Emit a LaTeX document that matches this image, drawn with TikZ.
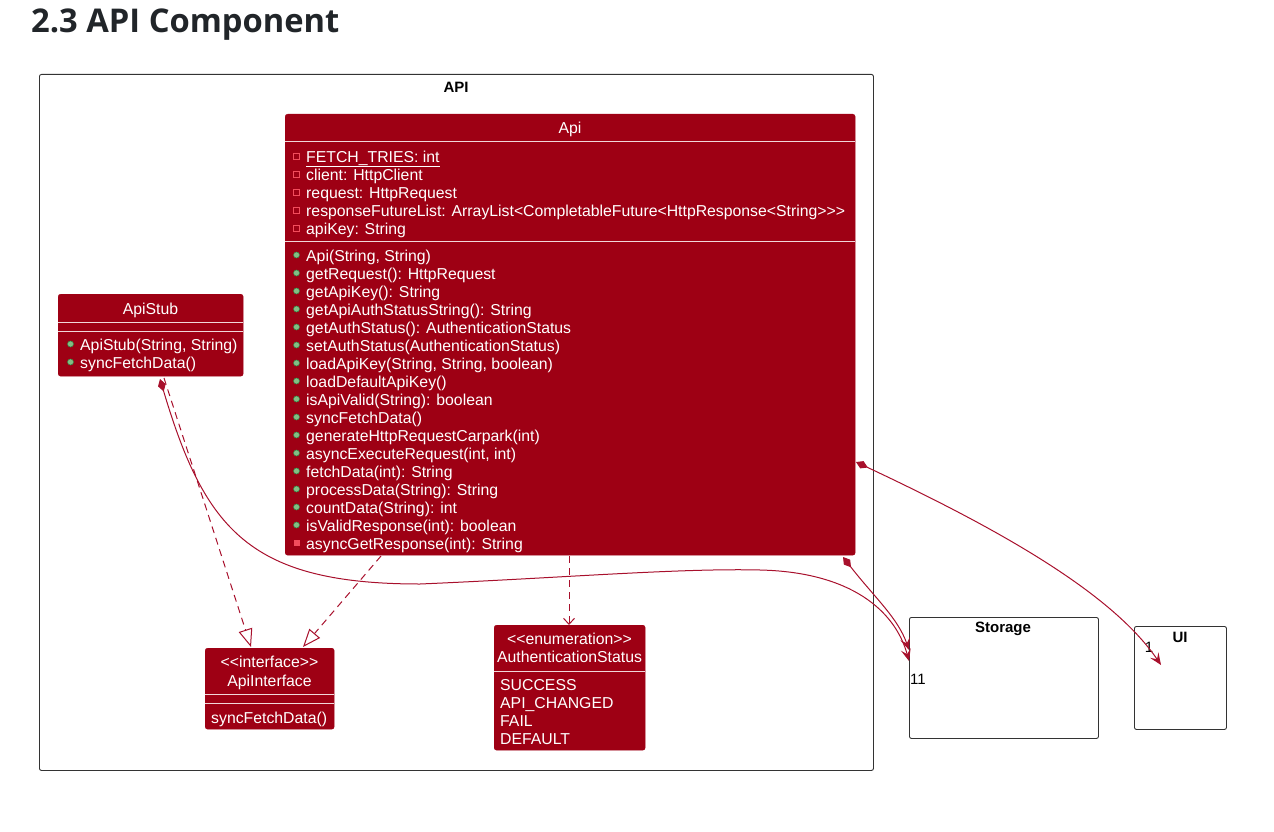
\documentclass[tikz,border=0pt]{standalone}
\usepackage{fontspec}
\usetikzlibrary{arrows.meta}
\newfontfamily\lib{Liberation Sans}
\newfontfamily\titlef{Open Sans}
\definecolor{cls}{HTML}{9E0014}
\definecolor{lnk}{HTML}{A8102C}
\definecolor{sep}{HTML}{F2D6D9}
\definecolor{pubfill}{HTML}{84BE84}
\definecolor{pubdraw}{HTML}{2E8B46}
\definecolor{privc}{HTML}{F24D5C}
\definecolor{ttl}{HTML}{212529}
\newcommand\clsf{\lib\fontsize{15.8}{18}\selectfont}
\tikzset{
  classbox/.style={draw=cls, fill=cls, rounded corners=2.5pt, inner sep=0, anchor=north west},
  txt/.style={anchor=base west, inner sep=0, text=white, font=\clsf, yshift=-6pt},
  ctxt/.style={anchor=base, inner sep=0, text=white, font=\clsf, yshift=-6pt},
  seprule/.style={draw=sep, line width=1pt},
  pub/.style={fill=pubfill, draw=pubdraw, line width=0.5pt},
  frame/.style={draw=black!80, rounded corners=2pt, line width=0.9pt, anchor=north west, inner sep=0},
  flabel/.style={inner sep=0, font=\lib\bfseries\fontsize{15}{18}\selectfont, yshift=-1pt},
  realize/.style={draw=lnk, line width=1pt, dash pattern=on 7pt off 5pt, -{Triangle[open, fill=white, length=18pt, width=14pt, line width=1pt]}},
  depend/.style={draw=lnk, line width=1pt, dash pattern=on 7pt off 5pt, -{Straight Barb[length=6pt, width=11pt, line width=1pt]}},
  comp/.style={draw=lnk, line width=1pt, {Diamond[fill=lnk, length=13pt, width=8pt]}-{Stealth[length=12pt, width=10pt, inset=5pt]}},
}
\begin{document}
\begin{tikzpicture}[x=1pt, y=-1pt]
\useasboundingbox (0,0) rectangle (1274,832);
% title
\node[anchor=west, inner sep=0, text=ttl, font=\titlef\bfseries\fontsize{32.7}{38}\selectfont] (title) at (31,25) {2.3 API Component};
% frames
\node[frame, minimum width=834, minimum height=696] (apiframe) at (39,74) {};
\node[flabel] (apilabel) at (456,86) {API};
\node[frame, minimum width=189, minimum height=121] (storage) at (909,617) {};
\node[flabel] (storagelabel) at (1003,628) {Storage};
\node[frame, minimum width=92, minimum height=103] (ui) at (1134,626) {};
\node[flabel] (uilabel) at (1180,636) {UI};
\node[inner sep=0, font=\lib\fontsize{15}{18}\selectfont] (m11) at (918,679) {11};
\node[inner sep=0, font=\lib\fontsize{15}{18}\selectfont] (m1) at (1149,647) {1};
% Api class
\node[classbox, minimum width=570, minimum height=441] (api) at (285,114) {};
\node[ctxt] (apititle) at (570,128) {Api};
\draw[seprule] (285,142) -- (855,142);
\draw[seprule] (285,241) -- (855,241);
\node[txt] (a0) at (306,156) {\underline{FETCH\_TRIES: int}};
\foreach \t [count=\i from 1] in {{client: HttpClient},{request: HttpRequest},{responseFutureList: ArrayList<CompletableFuture<HttpResponse<String>>>},{apiKey: String}}{
  \node[txt] (a\i) at (306,156+18*\i) {\t};
}
\foreach \i in {0,...,4}{
  \draw[privc, line width=0.6pt] (293.5,153.5+18*\i) rectangle (299,159+18*\i);
}
\foreach \t [count=\i from 0] in {{Api(String, String)},{getRequest(): HttpRequest},{getApiKey(): String},{getApiAuthStatusString(): String},{getAuthStatus(): AuthenticationStatus},{setAuthStatus(AuthenticationStatus)},{loadApiKey(String, String, boolean)},{loadDefaultApiKey()},{isApiValid(String): boolean},{syncFetchData()},{generateHttpRequestCarpark(int)},{asyncExecuteRequest(int, int)},{fetchData(int): String},{processData(String): String},{countData(String): int},{isValidResponse(int): boolean},{asyncGetResponse(int): String}}{
  \node[txt] (m\i) at (306,255+18*\i) {\t};
}
\foreach \i in {0,...,15}{
  \draw[pub] (296.5,255+18*\i) circle (3);
}
\fill[privc] (293.5,540) rectangle (299.5,546);
% ApiStub
\node[classbox, minimum width=185, minimum height=82] (stub) at (58,294) {};
\node[ctxt] (stubtitle) at (150.5,308) {ApiStub};
\draw[seprule] (58,322) -- (243,322);
\draw[seprule] (58,331) -- (243,331);
\node[txt] (s0) at (80,344) {ApiStub(String, String)};
\node[txt] (s1) at (80,362) {syncFetchData()};
\draw[pub] (70.5,344) circle (3);
\draw[pub] (70.5,362) circle (3);
% ApiInterface
\node[classbox, minimum width=129, minimum height=81] (iface) at (205,648) {};
\node[ctxt] (ifst) at (269.5,661) {<<interface>>};
\node[ctxt] (iftitle) at (269.5,680) {ApiInterface};
\draw[seprule] (205,694) -- (334,694);
\draw[seprule] (205,703) -- (334,703);
\node[txt] (if0) at (211,717) {syncFetchData()};
% AuthenticationStatus
\node[classbox, minimum width=151, minimum height=125] (auth) at (494,625) {};
\node[ctxt] (aust) at (569.5,638) {<<enumeration>>};
\node[ctxt] (autitle) at (569.5,656) {AuthenticationStatus};
\draw[seprule] (494,671) -- (645,671);
\foreach \t [count=\i from 0] in {SUCCESS,API\_CHANGED,FAIL,DEFAULT}{
  \node[txt] (e\i) at (500,684+18*\i) {\t};
}
% connector end points
\coordinate (stubB) at (164,378);
\coordinate (stubD) at (160,379);
\coordinate (ifA) at (251,647);
\coordinate (ifB) at (303,647);
\coordinate (apiB) at (381,556);
\coordinate (apiAuth) at (569,556);
\coordinate (authT) at (569,625);
\coordinate (apiC) at (843,557);
\coordinate (apiR) at (856,462);
\coordinate (stA) at (909,661);
\coordinate (stB) at (909,650);
\coordinate (uiT) at (1161,665);
% connectors
\draw[realize] (stubB) -- (ifA);
\draw[realize] (apiB) -- (ifB);
\draw[depend] (apiAuth) -- (authT);
\draw[comp] (stubD) .. controls (205,530) and (250,584) .. (420,584) .. controls (560,578) and (680,568) .. (760,570) .. controls (850,572) and (895,610) .. (stA);
\draw[comp] (apiC) .. controls (875,598) and (898,618) .. (stB);
\draw[comp] (apiR) .. controls (990,525) and (1110,590) .. (uiT);
\end{tikzpicture}
\end{document}
